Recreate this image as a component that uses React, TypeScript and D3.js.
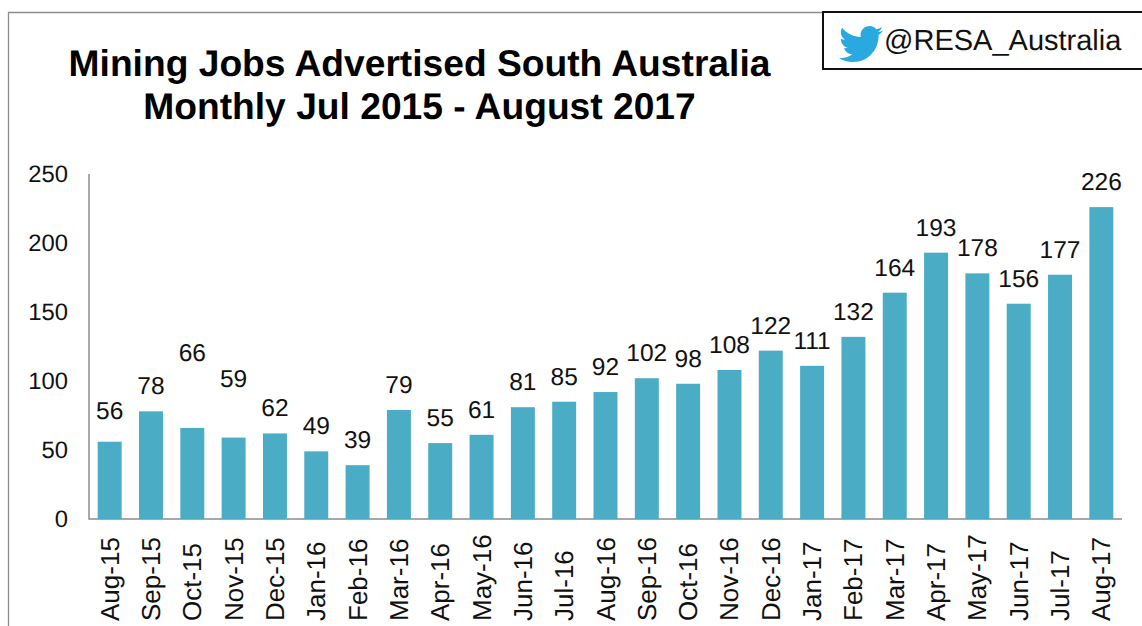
import React from 'react';
import * as d3 from 'd3';

const months = ['Aug-15','Sep-15','Oct-15','Nov-15','Dec-15','Jan-16','Feb-16','Mar-16','Apr-16','May-16','Jun-16','Jul-16','Aug-16','Sep-16','Oct-16','Nov-16','Dec-16','Jan-17','Feb-17','Mar-17','Apr-17','May-17','Jun-17','Jul-17','Aug-17'];
const jobs = [56,78,66,59,62,49,39,79,55,61,81,85,92,102,98,108,122,111,132,164,193,178,156,177,226];
const yTicks = [0,50,100,150,200,250];
const titleLines = ['Mining Jobs Advertised South Australia','Monthly Jul 2015 - August 2017'];
const handle = '@RESA_Australia';
// labels manually lifted in the original chart
const liftedLabels: Record<string, number> = { 'Aug-15': 6, 'Oct-15': 50, 'Nov-15': 34 };

const FONT = '"Liberation Sans", Arial, sans-serif';

export default function App() {
  const x = d3.scaleBand<string>().domain(months).range([89, 1122]).paddingInner(0.42).paddingOuter(0.21);
  const y = d3.scaleLinear().domain([0, 250]).range([519, 174]);
  return (
    <svg width={1142} height={626} style={{ position: 'absolute', left: 0, top: 0, background: '#fff', textRendering: 'geometricPrecision' }} fontFamily={FONT}>
      <path d="M8.5 626V12.5H823" fill="none" stroke="#8c8c8c" strokeWidth={1.3} />
      <rect x={823} y={12} width={320} height={57} fill="#fff" stroke="#111" strokeWidth={2} />
      <g transform="translate(839,22) scale(1.84)" >
        <path fill="#2aa9e0" d="M24 4.6c-.9.4-1.8.7-2.8.8 1-.6 1.8-1.6 2.2-2.7-1 .6-2 1-3.100 1.200C19.300 2.800 18 2.200 16.600 2.200c-2.700 0-4.900 2.200-4.900 4.900 0 .4 0 .8.100 1.100C7.700 8 4.100 6.100 1.700 3.100c-.4.700-.7 1.600-.7 2.500 0 1.700.9 3.200 2.200 4.100-.8 0-1.600-.2-2.200-.6v.1c0 2.400 1.700 4.400 3.900 4.800-.4.100-.8.200-1.300.2-.3 0-.6 0-.9-.1.600 2 2.400 3.400 4.600 3.400-1.700 1.300-3.800 2.100-6.100 2.100-.4 0-.8 0-1.200-.1 2.200 1.400 4.800 2.200 7.500 2.200 9.100 0 14-7.500 14-14v-.6c1-.7 1.800-1.600 2.500-2.500z" />
      </g>
      <text x={884} y={50} fontSize={29} fill="#111">{handle}</text>
      {titleLines.map((t, i) => (
        <text key={t} x={419.500} y={76 + i * 43} fontSize={37.200} fontWeight={700} textAnchor="middle" fill="#000">{t}</text>
      ))}
      <path d={`M89 ${y(250)}V${y(0)}H1122`} fill="none" stroke="#8c8c8c" strokeWidth={1.5} />
      {yTicks.map(t => (
        <text key={t} x={68} y={y(t) + 8} fontSize={23.800} textAnchor="end" fill="#111">{t}</text>
      ))}
      {months.map((m, i) => {
        const cx = x(m)! + x.bandwidth() / 2;
        return (
          <g key={m}>
            <rect x={x(m)} y={y(jobs[i])} width={x.bandwidth()} height={y(0) - y(jobs[i])} fill="#4bacc6" />
            <text x={cx} y={y(jobs[i]) - 17 - (liftedLabels[m] ?? 0)} fontSize={24.500} textAnchor="middle" fill="#111">{jobs[i]}</text>
            <text transform={`translate(${cx + 9},621) rotate(-90)`} fontSize={26} fill="#111">{m}</text>
          </g>
        );
      })}
    </svg>
  );
}
